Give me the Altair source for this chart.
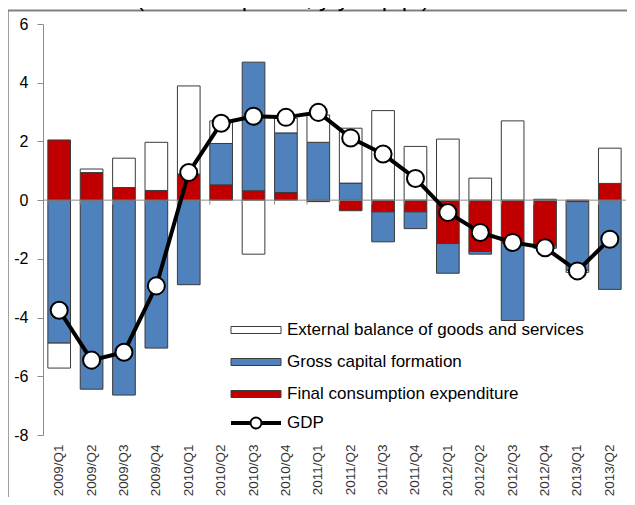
import altair as alt
import pandas as pd

quarters = ["2009/Q1", "2009/Q2", "2009/Q3", "2009/Q4",
            "2010/Q1", "2010/Q2", "2010/Q3", "2010/Q4",
            "2011/Q1", "2011/Q2", "2011/Q3", "2011/Q4",
            "2012/Q1", "2012/Q2", "2012/Q3", "2012/Q4",
            "2013/Q1", "2013/Q2"]
fce = [2.05, 0.94, 0.43, 0.33, 0.89, 0.52, 0.32, 0.26, -0.05, -0.36, -0.40, -0.40,
       -1.48, -1.75, -1.47, -1.56, -0.05, 0.57]
gcf = [-4.87, -6.44, -6.64, -5.04, -2.88, 1.41, 4.38, 2.03, 1.97, 0.58, -1.02, -0.57,
       -1.01, -0.09, -2.63, -0.08, -2.34, -3.04]
ext = [-0.85, 0.12, 1.00, 1.64, 3.00, 0.77, -1.84, 0.50, 0.93, 1.87, 3.05, 1.83,
       2.08, 0.75, 2.70, 0.03, -0.07, 1.20]
gdp = [-3.75, -5.45, -5.18, -2.92, 0.94, 2.62, 2.86, 2.82, 2.99, 2.12, 1.57, 0.74,
       -0.42, -1.10, -1.44, -1.62, -2.41, -1.33]

components = ["Final consumption expenditure", "Gross capital formation",
              "External balance of goods and services"]
legend_order = ["External balance of goods and services", "Gross capital formation",
                "Final consumption expenditure"]
legend_colors = ["#FFFFFF", "#4F81BD", "#C00000"]
y_ticks = [-8, -6, -4, -2, 0, 2, 4, 6]
title_text = "(constant prices, y/y in p.p.)"

rows = []
for i, q in enumerate(quarters):
    for k, (name, vals) in enumerate(zip(components, [fce, gcf, ext])):
        rows.append({"quarter": q, "component": name, "value": vals[i], "order": k})
bars_df = pd.DataFrame(rows)
gdp_df = pd.DataFrame({"quarter": quarters, "gdp": gdp, "series": ["GDP"] * len(quarters)})
q_df = pd.DataFrame({"quarter": quarters})
one_df = pd.DataFrame({"zero": [0]})

FONT = "Liberation Sans"
GRAY = "#8c8c8c"

x_scale = alt.Scale(paddingInner=0.3, paddingOuter=0.15)
x_axis = alt.Axis(title=None, labelAngle=270, domain=False, ticks=False, labelPadding=9,
                  labelFontSize=13.5, labelColor="#333333", labelFont=FONT)
y_scale = alt.Scale(domain=[-8, 6], nice=False, zero=False)
y_axis = alt.Axis(values=y_ticks, title=None, grid=False, domainColor=GRAY, tickColor=GRAY,
                  tickSize=6, labelPadding=9, labelFontSize=16, labelColor="#000000",
                  labelFont=FONT, labelExpr="'' + datum.value")

bars = alt.Chart(bars_df).mark_bar(stroke="#3a3a3a", strokeWidth=1, opacity=1).encode(
    x=alt.X("quarter:N", sort=quarters, scale=x_scale, axis=x_axis),
    y=alt.Y("value:Q", stack="zero", scale=y_scale, axis=y_axis),
    fill=alt.Fill("component:N", scale=alt.Scale(domain=legend_order, range=legend_colors),
                  legend=alt.Legend(orient="none", legendX=204.5, legendY=297.5, title=None,
                                    symbolType="M-5,-0.7H5V0.7H-5Z", symbolSize=100,
                                    symbolStrokeColor="#3a3a3a", symbolStrokeWidth=1,
                                    symbolOpacity=1, labelFontSize=17, labelFont=FONT,
                                    labelColor="#000000", labelOffset=22.5, rowPadding=14,
                                    padding=0, labelLimit=400)),
    order=alt.Order("order:Q", sort="ascending"),
)

frame_left = alt.Chart(one_df).mark_rule(color="#a0a0a0", strokeWidth=1).encode(
    x=alt.value(-34.5), y=alt.value(-14), y2=alt.value(600))
frame_top = alt.Chart(one_df).mark_rule(color="#808080", strokeWidth=2).encode(
    x=alt.value(-35), x2=alt.value(640), y=alt.value(-13.5), y2=alt.value(-13.5))

zero_line = alt.Chart(one_df).mark_rule(color=GRAY, strokeWidth=1).encode(
    y=alt.Y("zero:Q", scale=y_scale, axis=y_axis))

bound_ticks = alt.Chart(q_df).mark_rule(color=GRAY, strokeWidth=1).encode(
    x=alt.X("quarter:N", sort=quarters, scale=x_scale, axis=x_axis, bandPosition=0),
    y=alt.datum(0), y2=alt.datum(-0.15))

title_mark = alt.Chart(one_df).mark_text(text=title_text, fontSize=24, font=FONT,
                                         color="#000000", align="center",
                                         baseline="alphabetic").encode(
    x=alt.value(240), y=alt.value(-18))

gdp_stroke = alt.Stroke("series:N", scale=alt.Scale(domain=["GDP"], range=["#000000"]),
                        legend=alt.Legend(orient="none", legendX=204.5, legendY=390.5,
                                          title=None,
                                          symbolType="M-5,-0.2H-1.05M-5,0.2H-1.05M1.05,-0.2H5M1.05,0.2H5M-1.1,0A1.1,1.1 0 1,0 1.1,0A1.1,1.1 0 1,0 -1.1,0Z",
                                          symbolSize=100, symbolFillColor="#FFFFFF",
                                          symbolStrokeWidth=2, symbolOpacity=1,
                                          labelFontSize=17, labelFont=FONT,
                                          labelColor="#000000", labelOffset=22.5,
                                          padding=0))

line = alt.Chart(gdp_df).mark_line(strokeWidth=4).encode(
    x=alt.X("quarter:N", sort=quarters, scale=x_scale, axis=x_axis),
    y=alt.Y("gdp:Q", scale=y_scale, axis=y_axis),
    stroke=gdp_stroke,
)
points = alt.Chart(gdp_df).mark_point(shape="circle", filled=True, fill="#FFFFFF",
                                      size=290, strokeWidth=2, opacity=1).encode(
    x=alt.X("quarter:N", sort=quarters, scale=x_scale, axis=x_axis),
    y=alt.Y("gdp:Q", scale=y_scale, axis=y_axis),
    stroke=gdp_stroke,
)

chart = alt.layer(bars, frame_left, frame_top, zero_line, bound_ticks, title_mark, line,
                  points).properties(
    width=583, height=411,
    padding={"left": 35, "top": 16, "right": 1, "bottom": 62},
    autosize=alt.AutoSizeParams(type="none"),
    background="#FFFFFF",
).configure_view(strokeWidth=0)

chart.save("out.html", embed_options={"renderer": "svg", "actions": False})
